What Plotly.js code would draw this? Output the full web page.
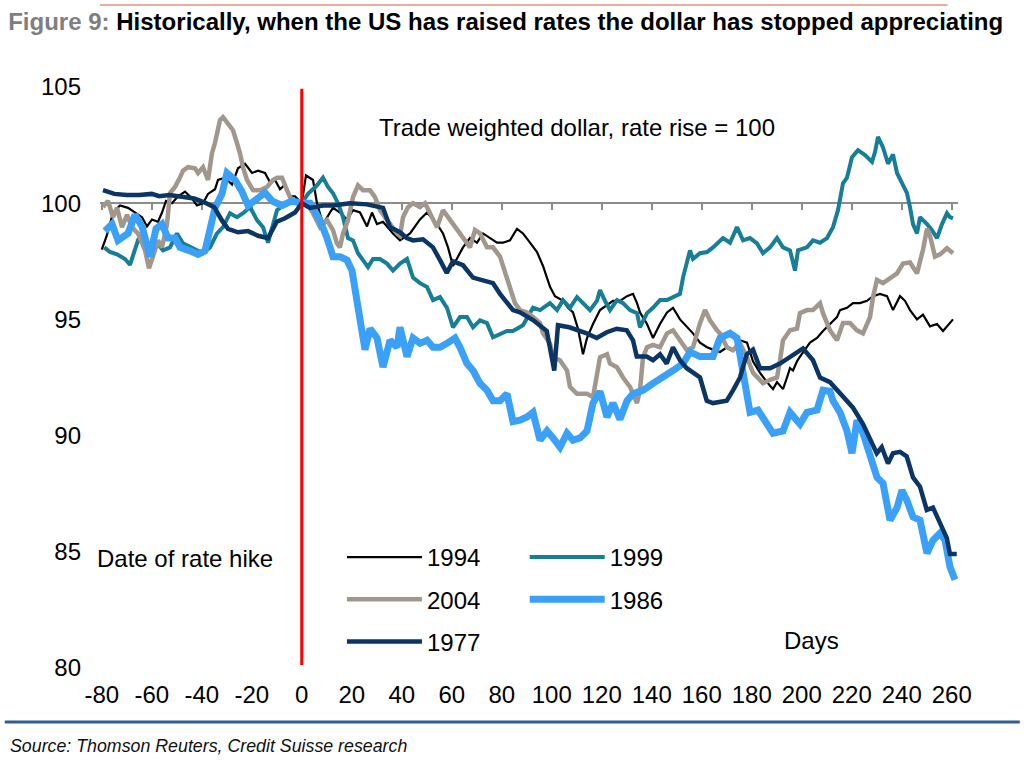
<!DOCTYPE html>
<html><head><meta charset="utf-8">
<script src="https://cdn.plot.ly/plotly-3.0.1.min.js"></script>
<style>html,body{margin:0;padding:0;background:#fff}#chart{width:1024px;height:761px}</style>
</head><body><div id="chart"></div>
<script>
// ---------------- data ----------------
var xTickVals = [-80,-60,-40,-20,0,20,40,60,80,100,120,140,160,180,200,220,240,260];
var xTickText = ['-80','-60','-40','-20','0','20','40','60','80','100','120','140','160','180','200','220','240','260'];
var yTickVals = [80,85,90,95,100,105];
var yTickText = ['80','85','90','95','100','105'];

var days94 = [-80,-78,-75.5,-72.7,-69.5,-66.7,-63.9,-61.9,-59.9,-57.5,-55.9,-54.3,-51.9,-49.5,-46.7,-43.9,-41.9,-39.5,-37.5,-34.7,-33.5,-30.7,-27.9,-25.5,-22.7,-19.9,-17.5,-14.7,-12.7,-10.7,-8.7,-6.7,-4.7,-2.7,0,1.7,4.5,6.1,8.5,11.3,12.5,15.3,18.1,20.5,23.3,26.1,28.1,30.1,32.5,36.5,39.3,43.3,47.3,50.1,54.1,56.5,58.5,60.5,62.5,64.5,67.3,70.1,72.5,75.3,78.1,80.5,83.3,86.1,88.5,91.3,94.1,96.5,99.3,101.3,104.5,106.5,108.5,110.5,112.5,114.1,116.5,119.3,122.1,124.5,127.3,130.1,132.5,134.1,135.3,138.1,140.5,143.3,146.1,148.5,151.3,154.1,156.5,159.3,162.1,164.5,167.3,170.1,172.5,175.3,178.1,180.5,183.3,186.1,188.5,190.1,192.5,194.1,195.3,196.5,198.1,199.3,201.3,203.3,206.1,208.5,211.3,214.1,215.3,218.1,220.5,223.3,226.1,228.5,231.3,234.1,236.5,239.3,241.3,243.3,246.1,248.5,251.3,254.1,256.5,258.1,260.5];
var vals94 = [98.0,98.6,99.6,99.9,99.8,99.6,99.4,99.0,99.3,99.2,99.6,100.1,100.0,100.3,100.5,100.2,99.9,100.0,100.4,100.6,101.0,101.1,100.8,101.5,101.7,101.3,101.4,101.3,100.9,101.0,100.6,100.8,100.3,100.3,100.0,101.2,101.0,100.0,99.1,99.6,99.8,99.6,99.3,99.7,99.6,99.0,99.6,99.1,99.2,98.7,98.4,98.7,99.3,99.6,99.1,98.7,98.1,97.3,97.7,98.1,98.5,98.3,98.7,98.5,98.3,98.3,98.4,98.9,98.7,98.3,97.9,97.3,96.4,96.0,95.8,95.5,95.3,94.6,93.5,94.2,94.8,95.4,95.6,95.8,95.8,96.0,96.1,95.7,95.3,94.8,94.2,94.8,95.3,95.5,95.0,94.7,94.4,94.0,93.8,93.7,93.6,93.8,93.7,94.1,94.0,93.2,92.7,92.3,92.0,92.3,92.0,92.5,92.9,92.8,93.2,93.4,93.7,94.0,94.2,94.5,94.8,95.1,95.4,95.5,95.7,95.7,95.8,96.0,96.1,96.0,95.4,96.0,95.8,95.4,95.0,95.2,94.7,94.8,94.5,94.7,95.0];

var days99 = [-79,-76.7,-73.9,-70.7,-68.7,-65.5,-62.7,-59.9,-57.9,-55.5,-52.7,-49.9,-47.5,-44.7,-41.9,-39.5,-36.7,-33.9,-31.5,-28.7,-25.9,-23.5,-20.7,-17.9,-15.5,-13.5,-11.5,-9.9,-7.5,-4.7,-1.9,0,2.5,6.1,8.5,10.5,12.5,14.5,16.5,18.5,20.5,22.5,24.5,26.5,28.5,31.3,34.1,36.5,39.3,42.1,44.5,47.3,50.1,52.5,55.3,58.1,60.5,63.3,66.1,68.5,71.3,74.1,76.5,79.3,82.1,84.5,88.5,92.5,95.3,99.3,102.1,104.5,107.3,110.1,112.5,115.3,118.1,119.3,121.3,123.3,126.1,128.5,131.3,134.1,135.3,138.1,140.5,143.3,146.1,148.5,151.3,152.5,154.1,155.3,156.5,159.3,162.1,164.5,168.5,171.3,174.1,176.5,179.3,182.1,184.5,187.3,190.1,192.5,195.3,197.3,198.5,202.1,204.5,207.3,210.1,212.5,214.5,216.5,218.1,220.1,222.5,225.3,228.1,229.3,230.5,232.5,234.5,236.5,238.1,240.1,242.1,243.3,244.5,246.1,247.3,250.1,252.1,254.1,256.1,258.1,259.3,260.5];
var vals99 = [98.1,97.9,97.8,97.6,97.35,98.4,98.3,98.1,98.3,97.97,98.1,98.7,98.27,98.1,97.97,97.85,98.1,98.7,98.97,99.57,99.4,99.57,99.83,99.27,98.97,98.3,99.1,99.7,99.9,100.1,100.0,100.0,100.4,100.77,101.1,100.7,100.43,100.0,99.4,98.5,98.4,97.85,97.55,97.25,97.6,97.6,97.4,97.1,97.4,97.6,96.8,96.56,96.4,95.83,95.96,95.5,94.66,95.1,95.1,94.66,94.96,94.84,94.23,94.35,94.5,94.5,94.75,95.5,95.4,95.7,95.4,95.83,95.5,95.96,95.7,95.4,95.8,96.26,95.8,95.4,95.83,95.7,95.4,95.27,94.66,95.27,95.5,95.83,95.83,95.96,96.1,96.8,97.55,97.97,97.6,97.85,97.9,98.1,98.5,98.3,98.97,98.4,98.5,98.27,97.85,98.1,98.5,98.1,97.97,97.1,97.97,98.1,98.4,98.3,98.5,98.97,99.7,100.86,101.1,101.98,102.28,102.07,101.78,102.2,102.85,102.4,101.7,102.1,101.3,100.86,100.43,99.83,99.1,98.7,99.4,99.1,98.84,98.5,99.1,99.57,99.4,99.35];

var days04 = [-79.5,-77.5,-75.5,-73.9,-71.9,-69.9,-67.9,-65.5,-62.7,-61.1,-58.7,-57.5,-55.9,-53.9,-52.7,-50.7,-48.7,-47.5,-45.5,-42.7,-41.5,-39.5,-37.5,-35.9,-34.7,-32.7,-31.5,-29.5,-27.5,-25.9,-24.7,-23.5,-21.9,-19.5,-16.7,-13.9,-11.5,-9.9,-7.9,-5.9,-4.7,-1.9,0,2.1,4.5,7.3,10.1,12.5,14.1,15.3,16.5,18.5,20.5,22.5,24.5,27.3,29.3,31.3,33.3,35.3,38.1,39.3,40.5,42.5,44.5,47.3,49.3,51.3,54.1,56.5,59.3,62.1,64.5,67.3,69.3,71.3,74.1,76.5,79.3,81.3,83.3,85.3,87.3,90.1,92.5,95.3,96.5,99.3,100.5,103.3,106.1,107.3,110.1,114.1,116.5,118.1,119.3,122.1,123.3,126.1,128.5,131.3,132.5,134.1,135.3,136.5,138.1,140.5,143.3,146.1,148.5,151.3,154.1,156.5,159.3,161.3,163.3,166.1,167.3,170.1,172.5,175.3,178.1,180.5,182.1,184.5,187.3,190.1,191.3,192.5,195.3,198.1,199.3,202.1,204.5,207.3,208.5,211.3,214.1,216.5,219.3,222.1,224.5,227.3,228.5,230.1,232.5,235.3,238.1,240.5,243.3,246.1,248.5,250.1,251.3,253.3,255.3,258.1,260.5];
var vals04 = [99.83,100.1,99.4,99.8,98.97,99.5,98.97,98.7,97.97,97.2,97.97,98.4,98.1,99.1,100.43,100.7,101.1,101.4,101.55,101.5,101.3,101.55,101.0,102.15,102.6,103.57,103.7,103.44,103.14,102.58,102.15,101.55,101.0,100.56,100.56,100.7,101.0,101.1,101.1,100.56,100.26,100.0,100.0,100.0,99.57,98.97,99.27,98.84,98.27,98.1,98.7,99.27,100.26,100.77,100.56,100.56,100.26,99.7,99.4,99.1,98.7,98.6,99.4,99.83,100.0,99.83,100.0,99.57,98.97,99.7,99.27,98.84,98.54,98.1,98.84,98.7,98.1,98.1,97.7,96.98,96.26,95.7,95.4,95.3,95.1,94.84,94.4,93.97,93.37,93.24,92.8,92.1,91.8,91.8,91.65,92.7,93.37,93.5,93.1,92.94,92.5,92.1,91.8,91.4,91.95,93.37,93.8,93.9,93.8,94.4,94.53,94.1,93.67,93.8,94.84,95.4,94.96,94.53,94.4,93.8,93.67,93.97,93.37,92.7,92.5,92.25,92.4,92.5,93.24,94.1,94.53,94.6,95.27,95.4,95.4,95.7,95.27,94.53,94.1,94.84,94.84,94.53,94.4,95.1,95.96,96.7,96.56,96.8,96.98,97.4,97.45,96.98,98.0,98.9,98.6,97.7,97.8,98.06,97.85];

var days86 = [-78.7,-75.9,-73.5,-69.5,-66.7,-63.9,-60.7,-58.3,-55.9,-53.5,-50.7,-48.7,-44.7,-41.5,-38.7,-36.7,-34.7,-31.9,-29.9,-26.7,-23.9,-21.5,-17.5,-14.7,-11.9,-7.9,-3.9,0,3.3,7.3,10.1,12.5,15.3,18.1,20.1,21.3,22.5,24.1,25.3,27.3,30.1,32.5,35.3,38.1,39.3,42.1,44.5,47.3,50.1,52.5,55.3,58.1,61.3,63.3,66.1,68.5,71.3,74.1,76.5,79.3,82.1,84.5,87.3,90.1,92.5,95.3,98.1,100.5,103.3,106.1,108.5,111.3,114.1,116.5,119.3,122.1,124.5,127.3,130.1,132.5,136.5,140.5,144.5,148.5,152.5,155.3,159.3,164.5,167.3,171.3,174.1,176.5,179.3,182.5,186.1,188.5,192.5,195.3,199.3,202.1,206.1,208.5,211.3,212.5,215.3,218.1,220.1,222.1,224.5,227.3,230.1,232.5,235.3,238.1,240.1,242.1,244.5,247.3,250.1,252.5,255.3,257.3,259.3,261.3];
var vals86 = [98.8,99.1,98.4,98.7,99.5,99.0,97.7,98.9,99.1,98.5,98.5,98.1,97.95,97.8,97.95,99.0,99.8,100.4,101.3,101.0,100.5,99.9,100.26,100.45,100.1,99.9,100.1,100.0,100.0,99.27,98.5,97.7,97.7,97.55,97.1,96.4,95.3,94.7,93.7,94.6,94.2,92.95,94.1,93.8,94.66,93.4,94.2,93.97,94.1,93.8,93.8,93.97,94.2,93.8,93.1,92.8,92.25,91.95,91.5,91.5,91.8,90.6,90.66,90.8,91.0,89.8,90.2,89.9,89.5,90.1,89.8,89.9,90.2,91.4,91.9,90.8,91.4,90.7,91.5,91.8,91.95,92.25,92.5,92.8,93.1,93.6,93.4,93.4,94.2,94.4,94.2,92.8,91.0,91.1,90.5,90.1,90.2,91.0,90.5,91.0,91.1,91.95,91.9,91.5,91.0,90.2,89.24,90.66,90.1,89.24,88.2,87.95,86.36,86.9,87.65,87.2,86.5,86.36,84.94,85.5,85.8,85.5,84.34,83.8];

var days77 = [-79.5,-75,-70,-65,-60,-57,-53,-49,-43,-39,-35,-32,-29.5,-25.5,-21.5,-17.5,-13.5,-10,-6.7,-2.7,0,3.3,8.5,12.5,19.3,26,32.5,35.3,39.3,42,44.5,48.5,52.5,55.3,58,60.5,64.5,68.5,72.5,76.5,79.3,82,84.5,87.3,90,92.5,98,101,102.5,107,114,118,122,126,130,132.5,134,138,140.5,143.3,146,148.5,151.3,154,159.3,160.5,162,164.5,170,172.5,175.3,178,180.5,183.3,187.3,191.3,196.5,200.5,204.5,207.3,211.3,216.5,220.5,224.5,227.3,230,232,234.5,236.5,239.3,242,244.5,247.3,250,252.5,255.3,258,259.3,262];
var vals77 = [100.56,100.4,100.35,100.35,100.4,100.3,100.35,100.3,100.2,100.04,99.83,99.27,98.9,98.75,98.8,98.6,98.5,99.2,99.35,99.6,100.0,99.8,99.9,99.9,100.0,99.95,99.8,98.97,98.75,98.5,98.4,98.45,98.1,97.55,97.0,97.5,97.33,96.8,96.7,96.56,96.1,95.7,95.4,95.3,95.1,94.97,94.5,92.8,94.75,94.66,94.4,94.2,94.45,94.6,94.53,94.1,93.4,93.4,93.24,93.5,93.1,93.8,93.24,92.9,92.5,92.0,91.5,91.4,91.5,91.95,92.5,93.5,93.7,92.9,92.9,93.1,93.5,93.75,93.24,92.5,92.3,91.65,91.2,90.5,89.8,89.24,89.5,88.8,89.24,89.3,89.1,88.2,87.8,86.8,86.9,86.2,85.6,84.9,84.9];

var seriesNames = ['1994','1999','2004','1986','1977'];
var rateHikeDay = 0;
var baseLevel = 100;

// ---------------- chart ----------------
var BASE_FONT = '"Liberation Sans", Arial, Helvetica, sans-serif';

function lineTrace(name, xs, ys, color, width, legendId) {
  return {type:'scatter', mode:'lines', name:name, x:xs, y:ys,
    line:{color:color, width:width, shape:'linear'},
    legend:legendId, legendgroup:name, hoverinfo:'x+y+name'};
}

var traces = [
  lineTrace(seriesNames[0], days94, vals94, '#000000', 2.2, 'legend'),
  lineTrace(seriesNames[1], days99, vals99, '#177e98', 4, 'legend2'),
  lineTrace(seriesNames[2], days04, vals04, '#a2978c', 4.5, 'legend'),
  lineTrace(seriesNames[3], days86, vals86, '#3aa0f8', 7, 'legend2'),
  lineTrace(seriesNames[4], days77, vals77, '#0b3564', 4.5, 'legend'),
  {type:'scatter', mode:'lines', x:[null], y:[null], xaxis:'x2', yaxis:'y', showlegend:false, hoverinfo:'skip'}
];

var legendFont = {family:BASE_FONT, size:24, color:'#000'};
var layout = {
  width:1024, height:761,
  margin:{l:100, r:66, t:87, b:93, pad:0},
  paper_bgcolor:'#ffffff', plot_bgcolor:'#ffffff',
  font:{family:BASE_FONT, size:24, color:'#000'},
  showlegend:true,
  title:{
    text:'<span style="color:#7f7f7f">Figure 9:</span> Historically, when the US has raised rates the dollar has stopped appreciating',
    xref:'container', yref:'container', x:0.008, xanchor:'left', y:0.971, yanchor:'middle',
    font:{family:BASE_FONT, size:24, weight:'bold', color:'#000'}
  },
  xaxis:{range:[-80.7,262.5], tickmode:'array', tickvals:xTickVals, ticktext:xTickText,
    showline:false, showgrid:false, zeroline:false, ticks:'', ticklabelstandoff:10,
    tickfont:{family:BASE_FONT, size:24, color:'#000'}, fixedrange:true},
  xaxis2:{overlaying:'x', anchor:'free', position:(baseLevel-80)/25, range:[-80.7,262.5],
    tickmode:'linear', tick0:0, dtick:20, ticks:'outside', ticklen:6, tickwidth:2, tickcolor:'#8c8c8c',
    showline:true, linecolor:'#8c8c8c', linewidth:2, showticklabels:false, showgrid:false, zeroline:false,
    layer:'below traces'},
  yaxis:{range:[80,105], tickmode:'array', tickvals:yTickVals, ticktext:yTickText,
    showline:false, showgrid:false, zeroline:false, ticks:'', ticklabelstandoff:18,
    tickfont:{family:BASE_FONT, size:24, color:'#000'}, fixedrange:true},
  legend:{x:0.282, xanchor:'left', y:0.229, yanchor:'top', orientation:'v', bgcolor:'rgba(0,0,0,0)',
    font:legendFont, itemwidth:75, tracegroupgap:8, traceorder:'grouped'},
  legend2:{x:0.495, xanchor:'left', y:0.229, yanchor:'top', orientation:'v', bgcolor:'rgba(0,0,0,0)',
    font:legendFont, itemwidth:75, tracegroupgap:8, traceorder:'grouped'},
  shapes:[
    {type:'line', xref:'x', yref:'paper', x0:rateHikeDay, x1:rateHikeDay, y0:0.005, y1:0.997,
      line:{color:'#ff0000', width:3}, layer:'above'},
    {type:'line', xref:'paper', yref:'paper', x0:0, x1:0.988, y0:1.141, y1:1.141,
      line:{color:'#eaad9e', width:2}},
    {type:'line', xref:'paper', yref:'paper', x0:-0.111, x1:1.072, y0:-0.0929, y1:-0.0929,
      line:{color:'#2f5f90', width:3}}
  ],
  annotations:[
    {text:'Trade weighted dollar, rate rise = 100', xref:'paper', yref:'paper', x:0.3228, y:0.931,
      xanchor:'left', yanchor:'middle', showarrow:false, font:{family:BASE_FONT, size:24, color:'#000'}},
    {text:'Date of rate hike', xref:'paper', yref:'paper', x:-0.006, y:0.189,
      xanchor:'left', yanchor:'middle', showarrow:false, font:{family:BASE_FONT, size:24, color:'#000'}},
    {text:'Days', xref:'paper', yref:'paper', x:0.795, y:0.048,
      xanchor:'left', yanchor:'middle', showarrow:false, font:{family:BASE_FONT, size:24, color:'#000'}},
    {text:'Source: Thomson Reuters, Credit Suisse research', xref:'paper', yref:'paper', x:-0.1072, y:-0.134,
      xanchor:'left', yanchor:'middle', showarrow:false, font:{family:BASE_FONT, size:17.8, style:'italic', color:'#111'}}
  ]
};

function condense(gd) {
  // emulate the narrow (condensed) typeface of the original title
  var t = gd.querySelector('.g-gtitle text.gtitle') || gd.querySelector('text.gtitle');
  if (t) { t.setAttribute('textLength', '995'); t.setAttribute('lengthAdjust', 'spacingAndGlyphs'); }
}

Plotly.newPlot('chart', traces, layout, {displayModeBar:false, responsive:false}).then(function(gd){
  condense(gd);
  gd.on('plotly_afterplot', function(){ condense(gd); });
});
</script></body></html>
